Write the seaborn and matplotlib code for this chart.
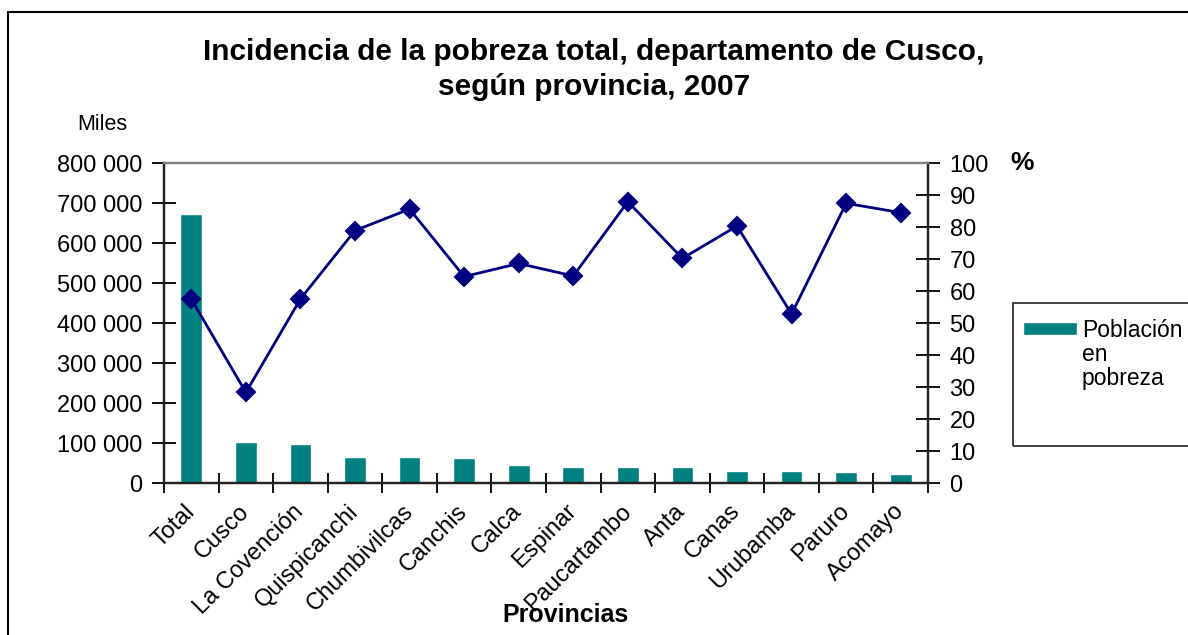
import numpy as np
import pandas as pd
import matplotlib
matplotlib.use("Agg")
import matplotlib.pyplot as plt
from matplotlib.lines import Line2D
from matplotlib.patches import Rectangle
from matplotlib.ticker import FuncFormatter, FixedLocator
import seaborn as sns

# Data
provincias = ["Total", "Cusco", "La Covención", "Quispicanchi", "Chumbivilcas",
              "Canchis", "Calca", "Espinar", "Paucartambo", "Anta", "Canas",
              "Urubamba", "Paruro", "Acomayo"]
poblacion_pobreza = [672500, 102500, 96700, 65800, 65800, 61700, 45000,
                     39200, 39200, 39200, 30800, 30800, 28300, 22500]
incidencia_pct = [57.5, 28.3, 57.5, 78.9, 85.6, 64.5, 68.6,
                  64.7, 87.9, 70.2, 80.3, 52.8, 87.4, 84.5]

df = pd.DataFrame({"provincia": provincias,
                   "poblacion": poblacion_pobreza,
                   "pct": incidencia_pct})

sns.set_theme(style="white")
plt.rcParams["font.family"] = ["Liberation Sans", "DejaVu Sans"]
plt.rcParams["text.color"] = "black"
plt.rcParams["xtick.color"] = "black"
plt.rcParams["ytick.color"] = "black"
plt.rcParams["axes.labelcolor"] = "black"

W, H = 1188, 635
fig = plt.figure(figsize=(W / 100, H / 100), dpi=100)
ax = fig.add_axes([164 / W, 1 - 483 / H, (928 - 164) / W, (483 - 163) / H])

teal = "#008080"
navy = "#000080"

sns.barplot(data=df, x="provincia", y="poblacion", color=teal, width=0.4,
            saturation=1, ax=ax)

ax2 = ax.twinx()
sns.pointplot(data=df, x="provincia", y="pct", color=navy, markers="D",
              linewidth=2.0, markersize=9.5, ax=ax2)

n = len(provincias)
for a in (ax, ax2):
    a.set_xlim(-0.5, n - 0.5)
    a.set_xlabel("")
    a.set_ylabel("")
    if a.get_legend() is not None:
        a.get_legend().remove()

ax.set_ylim(0, 800000)
ax.yaxis.set_major_locator(FixedLocator(np.arange(0, 800001, 100000)))
ax.yaxis.set_major_formatter(FuncFormatter(lambda v, p: f"{int(v):,}".replace(",", " ")))
ax2.set_ylim(0, 100)
ax2.yaxis.set_major_locator(FixedLocator(np.arange(0, 101, 10)))

# x ticks: labels at centres, tick marks at boundaries
ax.set_xticks(np.arange(n))
ax.set_xticklabels(provincias, rotation=45, ha="right", va="center",
                   rotation_mode="anchor", fontsize=17)
ax.tick_params(axis="x", which="major", length=0, pad=18)
ax.set_xticks(np.arange(-0.5, n), minor=True)
ax.tick_params(axis="x", which="minor", direction="inout", length=14,
               width=1.3, color="black", bottom=True)
ax.tick_params(axis="y", direction="inout", length=17, width=1.3,
               color="black", left=True, labelsize=17, pad=7)
ax2.tick_params(axis="y", direction="inout", length=17, width=1.3,
                color="black", right=True, labelsize=17, pad=7)
ax2.tick_params(axis="x", bottom=False, labelbottom=False)

for a in (ax, ax2):
    for s in ("left", "right", "bottom"):
        a.spines[s].set_color("#222222")
        a.spines[s].set_linewidth(1.6)
    a.spines["top"].set_color("#808080")
    a.spines["top"].set_linewidth(1.6)
ax.grid(False)
ax2.grid(False)

# Texts
fig.text(0.5, 1 - 38 / H,
         "Incidencia de la pobreza total, departamento de Cusco,\nsegún provincia, 2007",
         ha="center", va="top", fontsize=21.5, fontweight="bold", linespacing=1.3)
fig.text(102 / W, 1 - 124 / H, "Miles", ha="center", va="center", fontsize=15.5)
fig.text(1022 / W, 1 - 163 / H, "%", ha="center", va="center", fontsize=19,
         fontweight="bold")
fig.text(566 / W, 1 - 615 / H, "Provincias", ha="center", va="center",
         fontsize=18, fontweight="bold")

# Legend box (cut at right edge as in the original)
fig.add_artist(Rectangle((1013 / W, 1 - 446 / H), 0.3, (446 - 303) / H,
                         transform=fig.transFigure, fill=False,
                         edgecolor="#222222", linewidth=1.2))
bar_handle = ax.patches[0]
fig.legend([bar_handle], ["Población"], loc="upper left",
           bbox_to_anchor=(1023 / W, 1 - 319 / H), frameon=False,
           fontsize=16.5, handlelength=2.35, handleheight=0.5,
           handletextpad=0.25, borderaxespad=0, borderpad=0)
fig.text(1082 / W, 1 - 343 / H, "en\npobreza", ha="left", va="top",
         fontsize=16.5, linespacing=1.05)

# Figure border (left and top edges visible)
fig.add_artist(Line2D([8 / W, 8 / W], [0, 1 - 12 / H], transform=fig.transFigure,
                      color="black", linewidth=1.5))
fig.add_artist(Line2D([8 / W, 1], [1 - 12 / H, 1 - 12 / H], transform=fig.transFigure,
                      color="black", linewidth=1.5))

fig.savefig("out.png", dpi=100)
